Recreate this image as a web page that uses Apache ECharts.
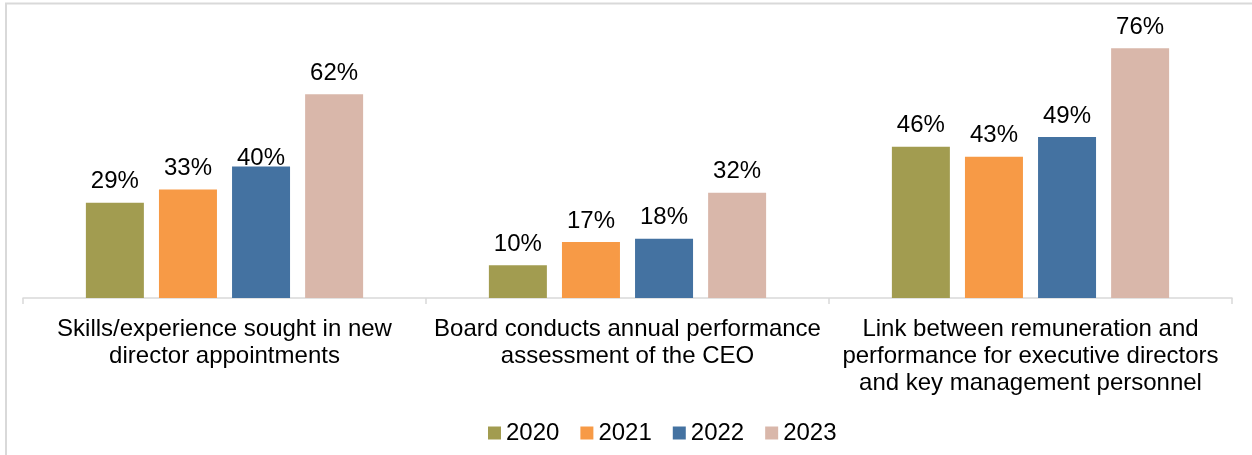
<!DOCTYPE html>
<html>
<head>
<meta charset="utf-8">
<script src="https://cdn.jsdelivr.net/npm/echarts@6/dist/echarts.min.js"></script>
<style>
  html, body { margin: 0; padding: 0; background: #fff; }
  #chart { width: 1252px; height: 455px; }
</style>
</head>
<body>
<div id="chart"></div>
<script>
  // categories (line breaks as in the original picture)
  var categories = [
    'Skills/experience sought in new\ndirector appointments',
    'Board conducts annual performance\nassessment of the CEO',
    'Link between remuneration and\nperformance for executive directors\nand key management personnel'
  ];
  var years = ['2020', '2021', '2022', '2023'];
  var v2020 = [29, 10, 46];
  var v2021 = [33, 17, 43];
  var v2022 = [40, 18, 49];
  var v2023 = [62, 32, 76];

  var colors = ['#a29c50', '#f79a46', '#4472a1', '#d9b7aa'];
  var FONT = 'Liberation Sans, Arial, sans-serif';

  var myChart = echarts.init(document.getElementById('chart'));

  function series(name, vals, color) {
    return {
      name: name,
      type: 'bar',
      barWidth: 58,
      barGap: '26%',
      itemStyle: { color: color },
      label: {
        show: true,
        position: 'top',
        distance: 9,
        formatter: '{c}%',
        color: '#000',
        fontFamily: FONT,
        fontSize: 24
      },
      data: vals.slice()
    };
  }

  var list = [
    series(years[0], v2020, colors[0]),
    series(years[1], v2021, colors[1]),
    series(years[2], v2022, colors[2]),
    series(years[3], v2023, colors[3])
  ];
  // the 40% label sits closer to its bar in the original
  list[2].data[0] = { value: v2022[0], label: { distance: -4 } };

  var option = {
    animation: false,
    backgroundColor: '#fff',
    textStyle: { fontFamily: FONT },
    graphic: [{
      type: 'rect',
      shape: { x: 6, y: 3.5, width: 1400, height: 600 },
      style: { fill: 'none', stroke: '#d9d9d9', lineWidth: 2 },
      silent: true,
      z: -1
    }],
    grid: { left: 23, right: 20, top: 35, bottom: 157 },
    legend: {
      left: 483,
      top: 416,
      itemWidth: 13,
      itemHeight: 13,
      itemGap: 21,
      itemTextGap: 3,
      itemStyle: { borderWidth: 0 },
      icon: 'rect',
      textStyle: { fontFamily: FONT, fontSize: 24, color: '#000' },
      data: years
    },
    xAxis: {
      type: 'category',
      data: categories,
      axisLine: { lineStyle: { color: '#d9d9d9', width: 1.5 } },
      axisTick: { show: true, length: 6, lineStyle: { color: '#d9d9d9', width: 1.5 } },
      axisLabel: {
        interval: 0,
        margin: 18,
        color: '#000',
        fontFamily: FONT,
        fontSize: 24,
        lineHeight: 27
      }
    },
    yAxis: {
      type: 'value',
      min: 0,
      max: 80,
      show: false,
      splitLine: { show: false }
    },
    series: list
  };
  myChart.setOption(option);
</script>
</body>
</html>
